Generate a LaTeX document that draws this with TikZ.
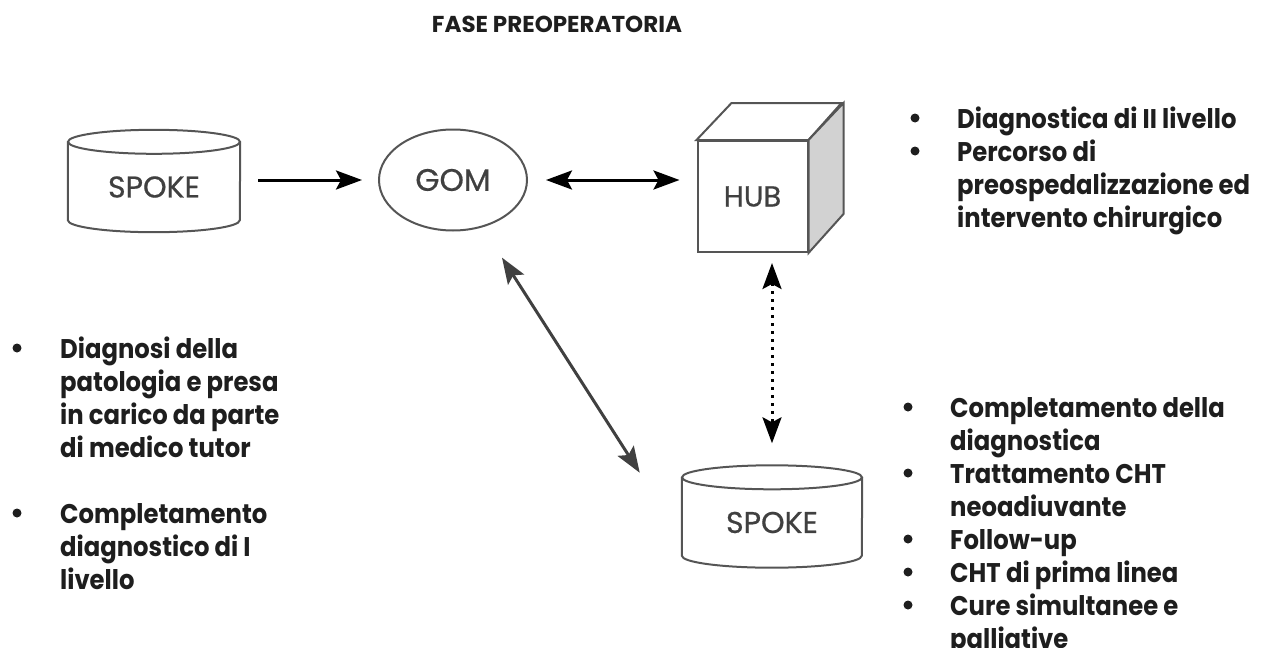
\documentclass[tikz,border=0pt]{standalone}
\usepackage{fontspec}
\setmainfont{Poppins}
\newfontfamily\listfont{Poppins}[FakeStretch=0.9]
\newfontfamily\tagfont{Poppins}[FakeBold=0.6]
\usetikzlibrary{arrows.meta,shapes.geometric}
\definecolor{ink}{HTML}{1E1E1E}
\definecolor{rim}{HTML}{555555}
\definecolor{tag}{HTML}{404040}
\definecolor{shade}{HTML}{D2D2D2}
\definecolor{slant}{HTML}{404040}

\begin{document}
\begin{tikzpicture}[x=1pt,y=1pt,every text node part/.style={align=left},
  outline/.style={draw=rim,line width=2pt},
  drum/.style={minimum height=90,inner sep=0pt,text=tag,font=\tagfont\fontsize{30}{34}\selectfont},
  bubble/.style={ellipse,outline,minimum width=148,minimum height=101,inner sep=0pt,text=tag,font=\tagfont\fontsize{31}{34}\selectfont},
  crate/.style={rectangle,outline,minimum width=110,minimum height=111,inner sep=0pt,text=tag,font=\tagfont\fontsize{29}{34}\selectfont},
  push/.style={line width=3pt,-{Stealth[length=26pt,width=19pt,inset=5pt]}},
  twoway/.style={line width=3pt,{Stealth[length=26pt,width=19pt,inset=5pt]}-{Stealth[length=26pt,width=19pt,inset=5pt]}},
  note/.style={anchor=north west,inner sep=0pt,text=ink,font=\listfont\bfseries\fontsize{27}{33}\selectfont},
  dot/.style={circle,fill=ink,minimum size=9pt,inner sep=0pt}]
\useasboundingbox (0,0) rectangle (1275,-648);

\node[anchor=base,inner sep=0pt,text=ink,font=\bfseries\fontsize{23}{28}\selectfont] (title) at (557,-32) {FASE PREOPERATORIA};

% spoke on the left
\node[drum,minimum width=172] (spokeL) at (154,-187) {SPOKE};
\draw[outline] (spokeL.north west) -- ([yshift=12]spokeL.south west) arc[start angle=180,end angle=360,x radius=86,y radius=12] -- (spokeL.north east);
\draw[outline] (spokeL.north) ellipse[x radius=86,y radius=12];

\node[bubble] (gom) at (453,-180) {GOM};

% hub cube
\node[crate] (hub) at (752.5,-196.5) {HUB};
\draw[outline,fill=white] (hub.north west) -- ++(35,37) -- ++(110,0) -- (hub.north east) -- cycle;
\draw[outline,fill=shade] (hub.north east) -- ++(35,37) -- ++(0,-111) -- (hub.south east) -- cycle;

% spoke at the bottom
\node[drum,minimum width=180] (spokeB) at (772,-522.5) {SPOKE};
\draw[outline] (spokeB.north west) -- ([yshift=12]spokeB.south west) arc[start angle=180,end angle=360,x radius=90,y radius=12] -- (spokeB.north east);
\draw[outline] (spokeB.north) ellipse[x radius=90,y radius=12];

\draw[push,shorten <=18pt,shorten >=16pt] (spokeL.east |- gom.west) -- (gom.west);
\draw[twoway,shorten <=18pt,shorten >=17pt] (gom.east) -- (gom.east -| hub.west);
\draw[twoway,draw=slant,shorten <=36pt,shorten >=78pt] (gom.-58) -- (spokeB.190);
\draw[twoway,dash pattern=on 3pt off 5pt,shorten <=10pt,shorten >=34pt] (hub.south -| spokeB.north) -- (spokeB.north);

% lists (top of first line = baseline + strut)
\node[note] (listHub) at (957,-104.9) {\strut Diagnostica di II livello\\Percorso di\\preospedalizzazione ed\\intervento chirurgico};
\foreach \y in {118,151} \node[dot] (dh\y) at (915,-\y) {};

\node[note] (listGom) at (60,-334.9) {\strut Diagnosi della\\patologia e presa\\in carico da parte\\di medico tutor\\[33pt]Completamento\\diagnostico di I\\livello};
\foreach \y in {348,513} \node[dot] (dg\y) at (17,-\y) {};

\node[note] (listSpoke) at (950,-393.9) {\strut Completamento della\\diagnostica\\Trattamento CHT\\neoadiuvante\\Follow-up\\CHT di prima linea\\Cure simultanee e\\palliative};
\foreach \y in {407,473,539,572,605} \node[dot] (ds\y) at (908,-\y) {};
\end{tikzpicture}
\end{document}
